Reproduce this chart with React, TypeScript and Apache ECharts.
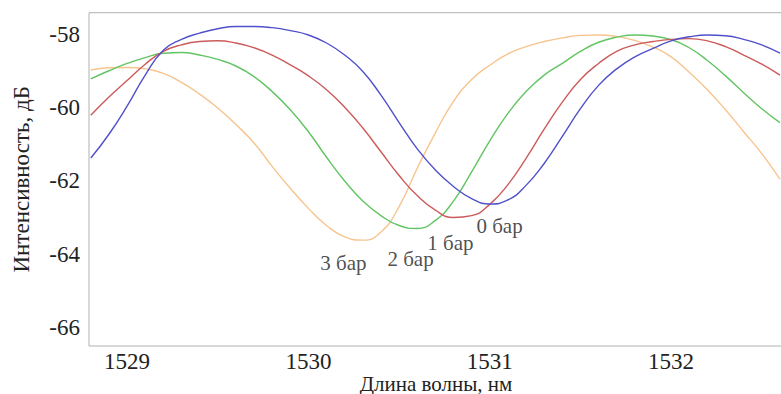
import React, { useEffect, useRef } from "react";
import * as echarts from "echarts";

// Wavelength grid (nm) and intensity (dB)
const wavelength = [
  1528.8, 1528.9, 1529.0, 1529.1, 1529.2, 1529.3, 1529.4, 1529.5, 1529.6, 1529.7,
  1529.8, 1529.9, 1530.0, 1530.1, 1530.2, 1530.3, 1530.4, 1530.5, 1530.6, 1530.7,
  1530.8, 1530.9, 1531.0, 1531.1, 1531.2, 1531.3, 1531.4, 1531.5, 1531.6, 1531.7,
  1531.8, 1531.9, 1532.0, 1532.1, 1532.2, 1532.3, 1532.4, 1532.5, 1532.6,
];

const bar0 = [
  -61.37, -60.72, -59.95, -59.1, -58.42, -58.12, -57.95, -57.83, -57.77, -57.77,
  -57.8, -57.88, -58.0, -58.22, -58.55, -59.0, -59.65, -60.4, -61.12, -61.7,
  -62.15, -62.48, -62.63, -62.52, -62.12, -61.52, -60.78, -60.02, -59.38, -58.93,
  -58.6, -58.37, -58.16, -58.05, -58.0, -58.02, -58.12, -58.27, -58.5,
];

const bar1 = [
  -60.2, -59.7, -59.25, -58.8, -58.45, -58.27, -58.18, -58.16, -58.22, -58.35,
  -58.55, -58.82, -59.12, -59.5, -59.98, -60.55, -61.2, -61.85, -62.4, -62.8,
  -63.0, -62.95, -62.64, -62.1, -61.38, -60.58, -59.84, -59.22, -58.78, -58.45,
  -58.27, -58.18, -58.12, -58.1, -58.16, -58.32, -58.55, -58.8, -59.1,
];

const bar2 = [
  -59.2, -58.98, -58.78, -58.62, -58.5, -58.48, -58.55, -58.67, -58.85, -59.14,
  -59.55, -60.05, -60.65, -61.35, -62.0, -62.55, -62.95, -63.22, -63.3, -63.08,
  -62.55, -61.75, -60.9, -60.15, -59.55, -59.1, -58.78, -58.45, -58.2, -58.06,
  -58.0, -58.03, -58.13, -58.35, -58.7, -59.12, -59.58, -60.02, -60.4,
];

const bar3 = [
  -58.96, -58.9, -58.89, -58.93, -59.05, -59.3, -59.62, -60.0, -60.45, -60.96,
  -61.6, -62.2, -62.75, -63.22, -63.53, -63.62, -63.4, -62.7, -61.65, -60.68,
  -59.82, -59.22, -58.83, -58.52, -58.32, -58.18, -58.08, -58.01, -58.0, -58.04,
  -58.15, -58.33, -58.6, -59.02, -59.5, -60.05, -60.65, -61.25, -61.95,
];

const seriesNames = ["0 бар", "1 бар", "2 бар", "3 бар"];
const labelX = [1531.054, 1530.783, 1530.563, 1530.193];
const labelY = [-63.23, -63.70, -64.14, -64.25];

const xTicks = [1529, 1530, 1531, 1532];
const yTicks = [-66, -64, -62, -60, -58];

const xTitle = "Длина волны, нм";
const yTitle = "Интенсивность, дБ";

const colors = ["#5050cc", "#cc5a5a", "#62c462", "#f7c48e"];

export default function App() {
  const ref = useRef<HTMLDivElement>(null);
  useEffect(() => {
    document.body.style.margin = "0";
    if (!ref.current) return;
    const chart = echarts.init(ref.current, null, { renderer: "svg" });
    const font = "Liberation Serif";
    const allSeries = [bar0, bar1, bar2, bar3];
    chart.setOption({
      animation: false,
      backgroundColor: "#ffffff",
      textStyle: { fontFamily: font },
      grid: {
        left: 89,
        top: 12.7,
        right: -2,
        bottom: 48,
        show: true,
        borderColor: "#b0b0b0",
        borderWidth: 1,
        containLabel: false,
        outerBoundsMode: "none",
      },
      xAxis: {
        type: "value",
        min: 1528.79,
        max: 1532.617,
        axisLine: { show: false },
        axisTick: { show: false },
        splitLine: { show: false },
        axisLabel: {
          customValues: xTicks,
          formatter: (v: number) => String(v),
          fontFamily: font,
          fontSize: 23,
          color: "#222",
          margin: 4,
        },
        name: xTitle,
        nameLocation: "middle",
        nameGap: 27,
        nameMoveOverlap: false,
        nameTextStyle: { fontFamily: font, fontSize: 21, color: "#222" },
      },
      yAxis: {
        type: "value",
        min: -66.52,
        max: -57.39,
        axisLine: { show: false },
        axisTick: { show: false },
        splitLine: { show: false },
        axisLabel: {
          customValues: yTicks,
          formatter: (v: number) => String(v),
          fontFamily: font,
          fontSize: 23,
          color: "#222",
          margin: 9,
        },
        name: yTitle,
        nameLocation: "middle",
        nameGap: 56,
        nameRotate: 90,
        nameMoveOverlap: false,
        nameTextStyle: { fontFamily: font, fontSize: 23, color: "#222" },
      },
      series: [
        ...allSeries.map((vals, i) => ({
          type: "line",
          name: seriesNames[i],
          data: wavelength.map((x, j) => [x, vals[j]]),
          smooth: 0.5,
          showSymbol: false,
          symbol: "none",
          lineStyle: { color: colors[i], width: 1.4 },
          z: 4 - i,
        })),
        {
          type: "scatter",
          symbolSize: 1,
          itemStyle: { color: "rgba(0,0,0,0)" },
          data: labelX.map((x, i) => ({ value: [x, labelY[i]], name: seriesNames[i] })),
          label: {
            show: true,
            position: "inside",
            formatter: (p: any) => p.name,
            fontFamily: font,
            fontSize: 21,
            color: "#222",
          },
          z: 10,
        },
      ],
    });
    return () => chart.dispose();
  }, []);
  return <div ref={ref} style={{ width: 781, height: 394 }} />;
}
